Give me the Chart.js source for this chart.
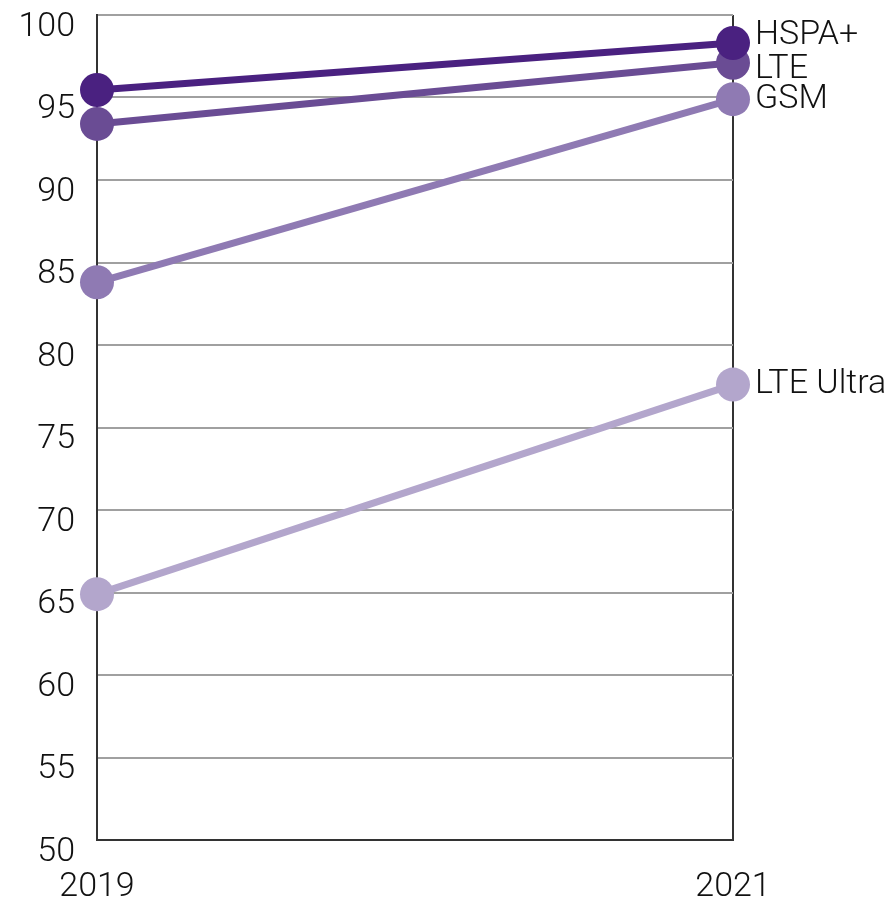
<!DOCTYPE html>
<html>
<head>
<meta charset="utf-8">
<script src="https://cdn.jsdelivr.net/npm/chart.js@4"></script>
<style>
  html, body { margin: 0; padding: 0; background: #fff; }
  #wrap { width: 895px; height: 902px; }
</style>
</head>
<body>
<div id="wrap"><canvas id="lineChart" width="895" height="902"></canvas></div>
<script>
const CHART = document.getElementById("lineChart");

// years on the x axis
var years = ["2019", "2021"];

// one list per network type
var hspaPlus = [95.45, 98.3];
var lte = [93.4, 97.1];
var gsm = [83.8, 94.9];
var lteUltra = [64.9, 77.6];

var yTicks = [50, 55, 60, 65, 70, 75, 80, 85, 90, 95, 100];

var FONT = "Roboto";

// series names written next to the last point, pushed apart when they collide
var endLabels = {
  id: "endLabels",
  afterDatasetsDraw: function(chart) {
    var ctx = chart.ctx;
    var items = [];
    chart.data.datasets.forEach(function(ds, i) {
      var meta = chart.getDatasetMeta(i);
      var pt = meta.data[meta.data.length - 1];
      items.push({ text: ds.label, x: pt.x, y: pt.y });
    });
    items.sort(function(a, b) { return a.y - b.y; });

    var gap = 34;
    var groups = [];
    items.forEach(function(it) {
      var g = groups[groups.length - 1];
      if (g && it.y - g.items[g.items.length - 1].y < gap) {
        g.items.push(it);
      } else {
        groups.push({ items: [it] });
      }
    });
    groups.forEach(function(g) {
      var mean = 0;
      g.items.forEach(function(it) { mean += it.y; });
      mean = mean / g.items.length;
      var start = mean - gap * (g.items.length - 1) / 2;
      g.items.forEach(function(it, k) { it.ly = start + k * gap; });
    });

    ctx.save();
    ctx.font = "300 34px " + FONT;
    ctx.fillStyle = "#111";
    ctx.textAlign = "left";
    ctx.textBaseline = "middle";
    items.forEach(function(it) {
      ctx.fillText(it.text, it.x + 22, it.ly);
    });
    ctx.restore();
  }
};

function series(label, data, color) {
  return {
    label: label,
    data: data,
    borderColor: color,
    backgroundColor: color,
    pointBackgroundColor: color,
    pointBorderColor: color,
    borderWidth: 7,
    pointRadius: 17,
    pointBorderWidth: 0,
    tension: 0,
    fill: false,
    clip: false
  };
}

let lineChart = new Chart(CHART, {
  type: "line",
  data: {
    labels: years,
    datasets: [
      series("HSPA+", hspaPlus, "#4a2180"),
      series("LTE", lte, "#6a4c94"),
      series("GSM", gsm, "#8f7ab3"),
      series("LTE Ultra", lteUltra, "#b3a6cc")
    ]
  },
  options: {
    responsive: false,
    animation: false,
    events: [],
    layout: {
      autoPadding: false,
      padding: { top: 15, right: 162, left: 0, bottom: 0 }
    },
    plugins: {
      legend: { display: false },
      tooltip: { enabled: false }
    },
    scales: {
      x: {
        offset: false,
        grid: { color: "#333", lineWidth: 2, drawTicks: false },
        border: { color: "#333", width: 2 },
        ticks: {
          color: "#111",
          padding: 27,
          maxRotation: 0,
          font: { family: FONT, size: 34, weight: 300 }
        },
        afterFit: function(scale) {
          scale.height = 62;
          scale.paddingLeft = 0;
          scale.paddingRight = 0;
        }
      },
      y: {
        min: 50,
        max: 100,
        afterBuildTicks: function(scale) {
          scale.ticks = yTicks.map(function(v) { return { value: v }; });
        },
        grid: { color: "#a0a0a0", lineWidth: 2, drawTicks: false },
        border: { color: "#333", width: 2 },
        ticks: {
          color: "#111",
          padding: 22,
          labelOffset: 12,
          font: { family: FONT, size: 34, weight: 300 }
        },
        afterFit: function(scale) {
          scale.width = 97;
          scale.paddingTop = 0;
          scale.paddingBottom = 0;
        }
      }
    }
  },
  plugins: [endLabels]
});
</script>
</body>
</html>
